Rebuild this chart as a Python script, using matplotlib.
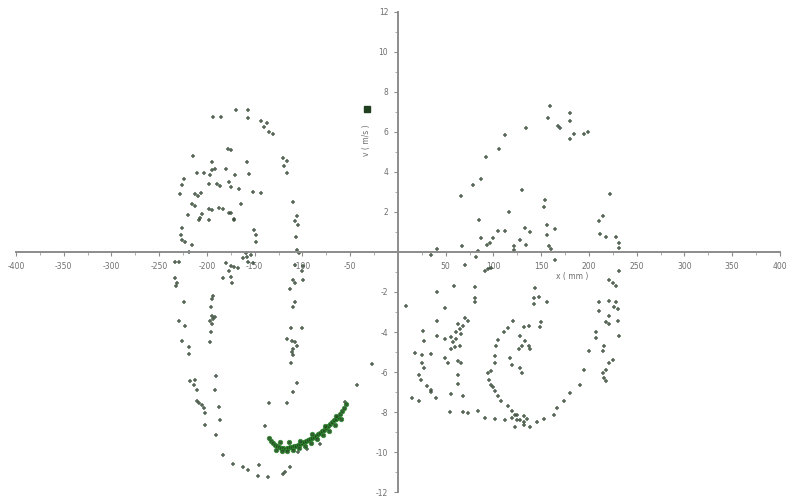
import numpy as np
import matplotlib
matplotlib.use("Agg")
import matplotlib.pyplot as plt
from matplotlib.ticker import MultipleLocator

# phase portrait samples (x in mm, v)
x_pts = [
    -193.2, -184.9, -169.4, -157.0, -157.0, -143.6, -137.4, -140.5, -135.3, -131.2,
    -177.7, -174.6, -214.9, -195.2, -158.1, -120.9, -116.7, -119.8, -115.7, -210.7,
    -203.5, -195.2, -192.1, -197.3, -179.7, -170.4, -156.0, -224.2, -226.2, -228.3,
    -198.3, -189.0, -185.9, -176.6, -174.6, -166.3, -151.9, -143.6, -212.8, -209.7,
    -206.6, -215.9, -212.8, -164.2, -198.3, -195.2, -187.0, -182.8, -176.6, -174.6,
    -205.6, -207.6, -208.7, -220.0, -171.5, -171.5, -198.3, -109.5, -105.4, -107.4,
    -104.3, -226.2, -227.3, -226.2, -223.1, -215.9, -150.8, -148.8, -148.8, -106.4,
    -219.0, -159.1, -105.4, -103.3,
    -233.5, -229.3, -179.7, -174.6, -171.5, -167.3, -176.6, -162.2, -158.1, -153.9,
    -157.0, -151.9, -107.4, -99.2, -100.2, -182.8, -174.6, -173.6, -233.5, -231.4,
    -232.4, -109.5, -107.4, -99.2, -224.2, -195.2, -193.2, -112.6, -107.4, -109.5,
    -196.3, -195.2, -193.2, -195.2, -197.3, -192.1, -229.3, -223.1, -111.6, -100.2,
    -196.3, -226.2, -197.3, -115.7, -110.5, -107.4, -105.4, -109.5, -110.5, -109.5,
    -111.6, -219.0, -219.0, -190.1, -192.1, -218.0, -212.8, -213.8, -210.7, -105.4,
    -210.7, -208.7, -205.6, -203.5, -202.5, -187.0, -185.9, -109.5, -135.3, -115.7,
    -202.5, -139.5, -190.1, -182.8, -172.5, -162.2, -157.0, -145.7, -146.7, -136.4,
    -120.9, -117.8, -112.6, -43.4, -26.9, -55.8, -81.6, -104.3, -95.0,
    159.1, 157.0, 179.7, 179.7, 167.3, 169.4, 134.3, 111.6, 183.9, 179.7,
    195.2, 199.4, 105.4, 91.9, 86.8, 78.5, 66.1, 130.2, 153.9, 152.9,
    222.1, 116.7, 84.7, 214.9, 210.7, 133.3, 138.4, 156.0, 164.2, 156.0,
    104.3, 111.6, 211.8, 218.0, 228.3, 86.8, 99.2, 96.1, 93.0, 128.1,
    121.9, 121.9, 134.3, 158.1, 160.1, 67.1, 231.4, 231.4, 41.3, 83.7,
    34.1, 81.6,
    164.2, 70.2, 90.9, 94.0, 97.1, 231.4, 221.1, 225.2, 228.3, 41.3,
    58.9, 80.6, 80.6, 80.6, 143.6, 142.6, 147.7, 156.0, 142.6, 8.3,
    49.6, 210.7, 221.1, 228.3, 230.4, 226.2, 210.7, 41.3, 70.2, 73.3,
    68.2, 63.0, 65.1, 60.9, 66.1, 55.8, 60.9, 57.8, 65.1, 59.9,
    55.8, 120.9, 114.7, 110.5, 132.2, 137.4, 148.8, 149.8, 221.1, 218.0,
    221.1, 230.4, 231.4, 25.8, 41.3, 49.6, 26.9, 104.3, 102.3, 128.1,
    133.3, 130.2, 137.4, 138.4, 127.1, 207.6, 207.6, 215.9, 214.9, 17.6,
    34.1, 24.8, 49.6, 52.7, 63.0, 66.1, 24.8, 26.9, 101.2, 101.2,
    97.1, 117.8, 119.8, 128.1, 130.2, 200.4, 195.2, 190.1, 225.2, 221.1,
    218.0, 214.9, 215.9, 218.0, 21.7, 23.8, 63.0, 63.0, 94.0, 95.0,
    97.1, 99.2, 30.0, 34.1, 35.1, 55.8, 68.2, 14.5, 21.7, 40.3,
    101.2, 104.3, 107.4, 114.7, 119.8, 125.0, 132.2, 179.7, 173.5, 166.3,
    163.2, 152.9, 145.7, 54.7, 68.2, 73.3, 83.7, 90.9, 101.2, 111.6,
    119.8, 122.9, 125.0, 128.1, 132.2, 135.3, 138.4, 122.9, 132.2,
]
v_pts = [
    6.75, 6.75, 7.09, 7.09, 6.70, 6.55, 6.45, 6.26, 6.01, 5.91,
    5.17, 5.12, 4.78, 4.48, 4.48, 4.68, 4.53, 4.29, 3.94, 3.94,
    3.94, 4.09, 4.14, 3.84, 4.14, 3.84, 3.89, 3.65, 3.35, 2.91,
    3.40, 3.40, 3.30, 3.50, 3.25, 3.15, 3.00, 2.96, 2.91, 2.81,
    2.96, 2.41, 2.32, 2.41, 2.17, 2.12, 2.22, 2.17, 1.97, 1.97,
    1.92, 1.72, 1.58, 1.87, 1.67, 1.58, 1.58, 2.51, 1.82, 1.53,
    1.33, 1.18, 0.84, 0.59, 0.49, 0.34, 1.08, 0.84, 0.49, 0.74,
    0.00, -0.05, 0.10, -0.05,
    -0.49, -0.49, -0.54, -0.69, -0.74, -0.79, -0.94, -0.30, -0.25, -0.15,
    -0.49, -0.54, -0.64, -0.69, -0.94, -1.28, -1.23, -1.53, -1.28, -1.53,
    -1.72, -1.38, -1.53, -1.38, -2.51, -2.36, -2.22, -1.87, -2.51, -2.76,
    -2.76, -3.20, -3.35, -3.60, -3.45, -3.25, -3.45, -3.69, -3.79, -3.79,
    -3.99, -4.43, -4.48, -4.33, -4.43, -4.48, -4.68, -4.83, -4.98, -5.17,
    -5.57, -4.73, -5.12, -6.21, -6.90, -6.45, -6.40, -6.65, -6.90, -6.55,
    -7.44, -7.54, -7.64, -7.78, -8.03, -7.73, -8.42, -7.00, -7.54, -7.54,
    -8.67, -8.72, -9.16, -10.15, -10.59, -10.74, -10.89, -10.64, -11.18, -11.23,
    -11.08, -10.99, -10.74, -6.65, -5.62, -7.49, -9.61, -10.00, -9.85,
    7.29, 6.70, 6.95, 6.55, 6.31, 6.21, 6.21, 5.86, 5.91, 5.67,
    5.91, 6.01, 5.17, 4.73, 3.65, 3.35, 2.81, 3.10, 2.61, 2.27,
    2.91, 2.02, 1.58, 1.82, 1.53, 1.18, 0.99, 1.33, 1.13, 0.84,
    1.03, 1.03, 0.89, 0.74, 0.74, 0.69, 0.69, 0.44, 0.34, 0.59,
    0.30, 0.10, 0.34, 0.30, 0.15, 0.30, 0.44, 0.20, 0.15, 0.05,
    -0.15, -0.25,
    -0.39, -0.64, -0.94, -0.84, -0.79, -0.94, -1.38, -1.53, -1.72, -2.02,
    -1.72, -1.77, -2.32, -2.51, -1.82, -2.32, -2.27, -2.51, -2.61, -2.71,
    -2.81, -2.51, -2.46, -2.51, -2.86, -2.76, -2.96, -3.45, -3.30, -3.45,
    -3.69, -3.60, -3.84, -3.99, -4.09, -4.24, -4.33, -4.48, -4.68, -4.73,
    -4.83, -3.45, -3.79, -3.99, -3.74, -3.69, -3.74, -3.50, -3.20, -3.50,
    -3.60, -3.45, -4.19, -3.94, -4.19, -4.33, -4.43, -4.38, -4.68, -4.19,
    -4.43, -4.68, -4.68, -4.83, -4.83, -3.99, -4.29, -4.68, -4.93, -5.07,
    -5.12, -5.17, -5.32, -5.57, -5.47, -5.57, -5.57, -5.81, -5.22, -5.57,
    -5.96, -5.32, -5.67, -5.81, -6.06, -4.93, -5.91, -6.65, -5.42, -5.57,
    -5.91, -6.06, -6.31, -6.45, -6.16, -6.40, -6.16, -6.60, -6.06, -6.40,
    -6.65, -6.75, -6.70, -6.90, -7.00, -7.09, -7.19, -7.29, -7.44, -7.29,
    -6.95, -7.19, -7.44, -7.68, -7.93, -8.13, -8.18, -7.04, -7.44, -7.78,
    -8.13, -8.37, -8.52, -7.98, -7.98, -8.03, -7.93, -8.28, -8.37, -8.42,
    -8.28, -8.13, -8.42, -8.42, -8.52, -8.37, -8.77, -8.77, -8.67,
]

# dense run of samples along the lower left arc
x_arc = [
    -135.3, -133.3, -131.2, -129.1, -127.1, -125.0, -122.9, -120.9, -118.8, -116.7,
    -114.7, -112.6, -110.5, -108.5, -106.4, -104.3, -102.3, -100.2, -98.1, -96.1,
    -94.0, -91.9, -89.9, -87.8, -85.7, -83.7, -81.6, -79.5, -77.5, -75.4,
    -73.3, -71.3, -69.2, -67.1, -65.1, -63.0, -60.9, -58.9, -56.8, -54.8,
    -128.1, -121.9, -115.7, -109.5, -103.3, -97.1, -90.9, -84.7, -78.5, -72.3,
    -66.1, -59.9, -124.0, -113.6, -102.3, -89.9, -76.4, -65.1,
]
v_arc = [
    -9.31, -9.46, -9.56, -9.66, -9.70, -9.75, -9.80, -9.80, -9.85, -9.80,
    -9.80, -9.75, -9.75, -9.70, -9.70, -9.66, -9.61, -9.56, -9.51, -9.46,
    -9.41, -9.36, -9.31, -9.26, -9.21, -9.11, -9.06, -8.97, -8.92, -8.82,
    -8.72, -8.62, -8.52, -8.42, -8.33, -8.23, -8.08, -7.93, -7.78, -7.59,
    -9.90, -9.95, -9.95, -9.90, -9.80, -9.70, -9.56, -9.36, -9.16, -8.97,
    -8.67, -8.33, -9.51, -9.51, -9.46, -9.11, -8.72, -8.18,
]

x_ticks = [-400, -350, -300, -250, -200, -150, -100, -50, 50, 100, 150, 200, 250, 300, 350, 400]
y_ticks = [-12, -10, -8, -6, -4, -2, 2, 4, 6, 8, 10, 12]

fig = plt.figure(figsize=(7.88, 4.98), dpi=100)
ax = fig.add_axes([0.0203, 0.012, 0.9695, 0.964])

ax.plot(x_pts, v_pts, linestyle="none", marker="+", ms=3.3, mew=1.1,
        color="#3b4d3b", alpha=0.85)
ax.plot(x_arc, v_arc, linestyle="none", marker="o", ms=3.2, mew=0.6,
        mfc="#1f4d1f", mec="#2f8a2f", alpha=0.9)

ax.set_xlim(-400, 400)
ax.set_ylim(-12, 12)

# axes crossing at the origin
for side in ("top", "right"):
    ax.spines[side].set_visible(False)
ax.spines["left"].set_position(("data", 0))
ax.spines["bottom"].set_position(("data", 0))
for side in ("left", "bottom"):
    ax.spines[side].set_color("#8c8c8c")
    ax.spines[side].set_linewidth(1.4)

ax.set_xticks(x_ticks)
ax.set_yticks(y_ticks)
ax.set_xticklabels([str(t) for t in x_ticks])
ax.set_yticklabels([str(t) for t in y_ticks])
ax.yaxis.set_minor_locator(MultipleLocator(1))
ax.xaxis.set_minor_locator(MultipleLocator(25))
ax.tick_params(axis="both", which="major", labelsize=5.5, labelcolor="#6e6e6e",
               color="#8c8c8c", length=3, width=0.8, pad=4)
ax.tick_params(axis="both", which="minor", color="#a0a0a0", length=2, width=0.6)

# axis titles next to the crossing axes
ax.text(182, -1.25, "x ( mm )", fontsize=5.5, color="#6e6e6e",
        ha="center", va="center")
ax.text(-33, 5.6, "v ( m/s )", fontsize=5.5, color="#6e6e6e",
        ha="center", va="center", rotation=90)
ax.plot([-32], [7.15], linestyle="none", marker="s", ms=5, color="#1f3f1f")

fig.savefig("out.png", dpi=100)
